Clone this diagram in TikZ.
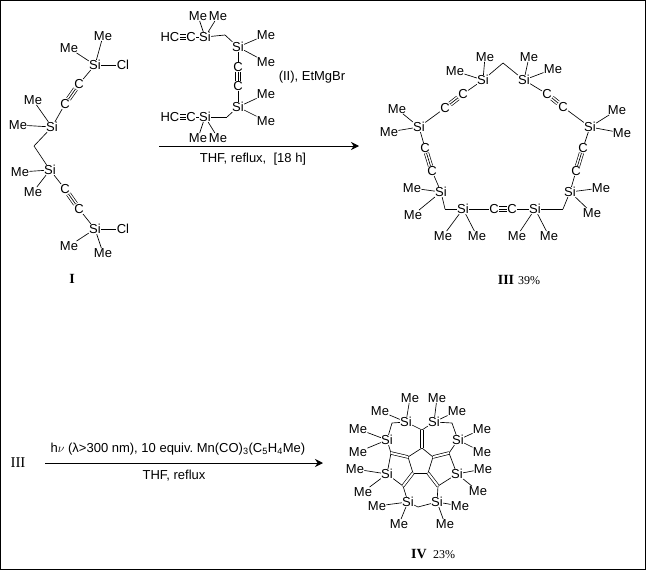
\documentclass[tikz,border=0pt]{standalone}
\usepackage{fontspec}
\setmainfont{Liberation Sans}
\newfontfamily\capfont{Liberation Serif}
\usetikzlibrary{arrows.meta}
\tikzset{%
  atom/.style = {inner sep=0.2pt,font=\fontsize{13}{13}\selectfont},
  bond/.style = {line width=0.65pt},
  dblbond/.style = {bond,double,double distance=2pt},
  tribase/.style = {bond,double,double distance=3.8pt},
  rarrow/.style = {line width=0.8pt,-{Stealth[length=8pt,width=8pt]}},
  cond/.style = {inner sep=0pt,font=\fontsize{13}{13}\selectfont},
  cmpd/.style = {inner sep=0pt,font=\capfont\bfseries\fontsize{14}{14}\selectfont},
  yield/.style = {inner sep=0pt,font=\capfont\fontsize{12}{12}\selectfont}
}
\newcommand{\tribond}[2]{\draw[tribase] (#1) -- (#2); \draw[bond] (#1) -- (#2);}

\begin{document}
\begin{tikzpicture}[x=1pt,y=-1pt]
  \useasboundingbox (0,0) rectangle (646,570);
  \draw[line width=1pt] (0.5,0.5) rectangle (645.5,569.3);

  % compound I
  \node[atom] (a1) at (95,65) {Si};
  \node[atom] (a1m) at (103,36) {Me};
  \node[atom] (a1n) at (69,48) {Me};
  \node[atom] (a1c) at (123,65) {Cl};
  \node[atom] (a2) at (79,84) {C};
  \node[atom] (a3) at (65,104) {C};
  \node[atom] (a4) at (52,127) {Si};
  \node[atom] (a4m) at (33,100) {Me};
  \node[atom] (a4n) at (18,125) {Me};
  \coordinate (a5) at (34,146);
  \node[atom] (a6) at (50,170) {Si};
  \node[atom] (a6m) at (20,172) {Me};
  \node[atom] (a6n) at (33,192) {Me};
  \node[atom] (a7) at (65,189) {C};
  \node[atom] (a8) at (79,209) {C};
  \node[atom] (a9) at (95,229) {Si};
  \node[atom] (a9c) at (123,229) {Cl};
  \node[atom] (a9m) at (69,246) {Me};
  \node[atom] (a9n) at (103,253) {Me};
  \node[cmpd] (lab1) at (72,279) {I};
  \path[bond] (a1) edge (a1m) (a1) edge (a1n) (a1) edge (a1c) (a1) edge (a2)
              (a3) edge (a4) (a4) edge (a4m) (a4) edge (a4n) (a4) edge (a5)
              (a5) edge (a6) (a6) edge (a6m) (a6) edge (a6n) (a6) edge (a7)
              (a8) edge (a9) (a9) edge (a9c) (a9) edge (a9m) (a9) edge (a9n);
  \tribond{a2}{a3}
  \tribond{a7}{a8}

  % reagent II
  \node[atom] (b1) at (170,37) {HC};
  \node[atom] (b2) at (191,37) {C};
  \node[atom] (b3) at (205,37) {Si};
  \node[atom] (b3m) at (198,16) {Me};
  \node[atom] (b3n) at (218,16) {Me};
  \coordinate (b4) at (225,35);
  \node[atom] (b5) at (238,47) {Si};
  \node[atom] (b5m) at (266,35) {Me};
  \node[atom] (b5n) at (266,62) {Me};
  \node[atom] (b6) at (238,67) {C};
  \node[atom] (b7) at (238,86) {C};
  \node[atom] (b8) at (238,107) {Si};
  \node[atom] (b8m) at (266,94) {Me};
  \node[atom] (b8n) at (266,121) {Me};
  \coordinate (b9) at (227,117);
  \node[atom] (b10) at (205,117) {Si};
  \node[atom] (b10m) at (198,138) {Me};
  \node[atom] (b10n) at (218,138) {Me};
  \node[atom] (b11) at (191,117) {C};
  \node[atom] (b12) at (170,117) {HC};
  \node[cond] (lab2) at (312,77) {(II), EtMgBr};
  \path[bond] (b2) edge (b3) (b3) edge (b3m) (b3) edge (b3n) (b3) edge (b4)
              (b4) edge (b5) (b5) edge (b5m) (b5) edge (b5n) (b5) edge (b6)
              (b7) edge (b8) (b8) edge (b8m) (b8) edge (b8n) (b8) edge (b9)
              (b9) edge (b10) (b10) edge (b10m) (b10) edge (b10n) (b10) edge (b11);
  \tribond{b1}{b2}
  \tribond{b6}{b7}
  \tribond{b11}{b12}

  % first arrow
  \coordinate (r1s) at (159,146);
  \coordinate (r1e) at (359,146);
  \draw[rarrow] (r1s) -- (r1e);
  \node[cond] (r1t) at (253,159) {THF, reflux,\ \ [18 h]};

  % compound III
  \node[atom] (c1) at (483,80) {Si};
  \node[atom] (c1m) at (485,57) {Me};
  \node[atom] (c1n) at (455,71) {Me};
  \coordinate (c2) at (503,63);
  \node[atom] (c3) at (524,80) {Si};
  \node[atom] (c3m) at (529,57) {Me};
  \node[atom] (c3n) at (553,69) {Me};
  \node[atom] (c4) at (547,94) {C};
  \node[atom] (c5) at (563,107) {C};
  \node[atom] (c6) at (590,127) {Si};
  \node[atom] (c6m) at (617,110) {Me};
  \node[atom] (c6n) at (622,133) {Me};
  \node[atom] (c7) at (583,148) {C};
  \node[atom] (c8) at (576,171) {C};
  \node[atom] (c9) at (570,192) {Si};
  \node[atom] (c9m) at (601,188) {Me};
  \node[atom] (c9n) at (592,213) {Me};
  \coordinate (c10) at (563,209);
  \node[atom] (c11) at (535,209) {Si};
  \node[atom] (c11m) at (517,236) {Me};
  \node[atom] (c11n) at (549,236) {Me};
  \node[atom] (c12) at (512,209) {C};
  \node[atom] (c13) at (494,209) {C};
  \node[atom] (c14) at (463,209) {Si};
  \node[atom] (c14m) at (443,236) {Me};
  \node[atom] (c14n) at (477,236) {Me};
  \coordinate (c15) at (445,209);
  \node[atom] (c16) at (441,192) {Si};
  \node[atom] (c16m) at (412,188) {Me};
  \node[atom] (c16n) at (413,215) {Me};
  \node[atom] (c17) at (432,171) {C};
  \node[atom] (c18) at (425,148) {C};
  \node[atom] (c19) at (419,127) {Si};
  \node[atom] (c19m) at (397,109) {Me};
  \node[atom] (c19n) at (389,132) {Me};
  \node[atom] (c20) at (445,108) {C};
  \node[atom] (c21) at (463,94) {C};
  \node[cmpd] (lab3) at (506,280) {III};
  \node[yield] (lab3y) at (529,281) {39\%};
  \path[bond] (c1) edge (c1m) (c1) edge (c1n) (c1) edge (c2) (c2) edge (c3)
              (c3) edge (c3m) (c3) edge (c3n) (c3) edge (c4) (c5) edge (c6)
              (c6) edge (c6m) (c6) edge (c6n) (c6) edge (c7) (c8) edge (c9)
              (c9) edge (c9m) (c9) edge (c9n) (c9) edge (c10) (c10) edge (c11)
              (c11) edge (c11m) (c11) edge (c11n) (c11) edge (c12) (c13) edge (c14)
              (c14) edge (c14m) (c14) edge (c14n) (c14) edge (c15) (c15) edge (c16)
              (c16) edge (c16m) (c16) edge (c16n) (c16) edge (c17) (c18) edge (c19)
              (c19) edge (c19m) (c19) edge (c19n) (c19) edge (c20) (c21) edge (c1);
  \tribond{c4}{c5}
  \tribond{c7}{c8}
  \tribond{c12}{c13}
  \tribond{c17}{c18}
  \tribond{c20}{c21}

  % second arrow
  \node[cmpd,font=\capfont\fontsize{15}{15}\selectfont] (lab3b) at (18,463) {III};
  \coordinate (r2s) at (45,463);
  \coordinate (r2e) at (323,463);
  \draw[rarrow] (r2s) -- (r2e);
  \node[cond] (r2a) at (178,449) {h$\nu$ (λ>300 nm), 10 equiv.\ Mn(CO)\textsubscript{3}(C\textsubscript{5}H\textsubscript{4}Me)};
  \node[cond] (r2b) at (174,476) {THF, reflux};

  % compound IV
  \node[atom] (d1) at (406,422) {Si};
  \node[atom] (d1m) at (410,398) {Me};
  \node[atom] (d1n) at (380,411) {Me};
  \node[atom] (d2) at (434,422) {Si};
  \node[atom] (d2m) at (437,398) {Me};
  \node[atom] (d2n) at (457,411) {Me};
  \coordinate (d3) at (392,423);
  \coordinate (d4) at (452,423);
  \node[atom] (d5) at (387,440) {Si};
  \node[atom] (d5m) at (358,429) {Me};
  \node[atom] (d5n) at (358,452) {Me};
  \node[atom] (d6) at (458,440) {Si};
  \node[atom] (d6m) at (482,429) {Me};
  \node[atom] (d6n) at (482,452) {Me};
  \node[atom] (d7) at (387,474) {Si};
  \node[atom] (d7m) at (355,469) {Me};
  \node[atom] (d7n) at (363,492) {Me};
  \node[atom] (d8) at (457,474) {Si};
  \node[atom] (d8m) at (483,469) {Me};
  \node[atom] (d8n) at (478,491) {Me};
  \node[atom] (d9) at (408,502) {Si};
  \node[atom] (d9m) at (377,506) {Me};
  \node[atom] (d9n) at (399,524) {Me};
  \node[atom] (d10) at (437,502) {Si};
  \node[atom] (d10m) at (460,506) {Me};
  \node[atom] (d10n) at (445,524) {Me};
  \coordinate (d11) at (418,507);
  \coordinate (e1) at (422,430);
  \coordinate (e2) at (422,448);
  \coordinate (e3) at (408,457);
  \coordinate (e4) at (433,457);
  \coordinate (e5) at (413,473);
  \coordinate (e6) at (428,473);
  \coordinate (e7) at (391,453);
  \coordinate (e8) at (449,453);
  \coordinate (e9) at (403,486);
  \coordinate (e10) at (438,486);
  \node[cmpd] (lab4) at (419,554) {IV};
  \node[yield] (lab4y) at (444,555) {23\%};
  \path[bond] (d1) edge (d1m) (d1) edge (d1n) (d2) edge (d2m) (d2) edge (d2n)
              (d1) edge (d3) (d3) edge (d5) (d2) edge (d4) (d4) edge (d6)
              (d5) edge (d5m) (d5) edge (d5n) (d6) edge (d6m) (d6) edge (d6n)
              (d7) edge (d7m) (d7) edge (d7n) (d8) edge (d8m) (d8) edge (d8n)
              (d9) edge (d9m) (d9) edge (d9n) (d10) edge (d10m) (d10) edge (d10n)
              (d9) edge (d11) (d11) edge (d10)
              (d1) edge (e1) (d2) edge (e1) (e2) edge (e3) (e2) edge (e4)
              (e3) edge (e5) (e4) edge (e6) (e5) edge (e6)
              (e7) edge (d5) (e7) edge (d7) (e8) edge (d6) (e8) edge (d8)
              (e9) edge (d7) (e9) edge (d9) (e10) edge (d8) (e10) edge (d10);
  \draw[dblbond] (e1) -- (e2);
  \draw[dblbond] (e3) -- (e7);
  \draw[dblbond] (e4) -- (e8);
  \draw[dblbond] (e5) -- (e9);
  \draw[dblbond] (e6) -- (e10);
\end{tikzpicture}
\end{document}
